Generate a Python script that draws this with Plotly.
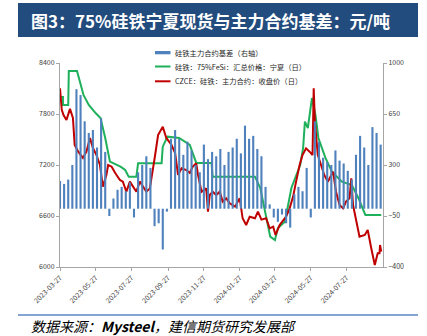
import plotly.graph_objects as go
import pandas as pd

# ---- data ----
basis_start = "2023-03-27"
basis_values = [190, 170, 200, 300, 820, 780, 600, 520, 540, 420,
                620, 390, -50, 70, 130, 150, 120, 180, -60, 250,
                300, 360, 280, -120, -100, -280, -20, 480, 540, 480,
                370, 460, 400, 300, 250, 440, 340, 390, 360, 410,
                300, 390, 420, 480, 380, 570, 480, 500, 410, 360,
                150, 30, -60, -90, -40, -100, -130, 100, 150, 120,
                280, -60, 600, 460, 350, 320, 300, 400, 330, 310,
                260, 200, 370, 500, 420, 300, 560, 520, 440]
basis_dates = pd.date_range(basis_start, periods=len(basis_values), freq="7D")

spot_dates = ["2023-03-27", "2023-04-01", "2023-04-01", "2023-04-10", "2023-04-11", "2023-04-25",
              "2023-05-06", "2023-05-15", "2023-05-27", "2023-06-04", "2023-06-12", "2023-06-20",
              "2023-07-08", "2023-07-16", "2023-07-22", "2023-08-04", "2023-08-07", "2023-09-16",
              "2023-09-18", "2023-09-26", "2023-10-16", "2023-11-03", "2023-11-14", "2023-12-10",
              "2023-12-12", "2024-02-22", "2024-03-02", "2024-03-10", "2024-03-19", "2024-03-27",
              "2024-04-01", "2024-04-13", "2024-04-24", "2024-05-09", "2024-05-14", "2024-05-17",
              "2024-05-22", "2024-05-29", "2024-06-04", "2024-06-09", "2024-06-21", "2024-07-02",
              "2024-07-19", "2024-08-05", "2024-08-16", "2024-08-28", "2024-09-24"]
spot_values = [8000, 8000, 7906, 7906, 8306, 8306,
               8024, 7906, 7808, 7753, 7518, 7239,
               7180, 7141, 7063, 7063, 7222, 7222,
               7416, 7533, 7518, 7435, 7224, 7224,
               7063, 7063, 6930, 6651, 6357, 6318,
               6459, 6534, 6930, 7200, 7400, 7710,
               7635, 7988, 7788, 7518, 7283, 7122,
               7004, 6965, 6812, 6612, 6612]

fut_dates = ["2023-03-27", "2023-03-30", "2023-04-02", "2023-04-07", "2023-04-13", "2023-04-18",
             "2023-04-21", "2023-04-27", "2023-05-05", "2023-05-11", "2023-05-17", "2023-05-22",
             "2023-05-28", "2023-06-03", "2023-06-08", "2023-06-14", "2023-06-17", "2023-06-23",
             "2023-06-29", "2023-07-07", "2023-07-12", "2023-07-18", "2023-07-24", "2023-07-29",
             "2023-08-04", "2023-08-10", "2023-08-15", "2023-08-21", "2023-08-27", "2023-09-01",
             "2023-09-05", "2023-09-10", "2023-09-16", "2023-09-18", "2023-09-24", "2023-10-03",
             "2023-10-09", "2023-10-14", "2023-10-20", "2023-10-28", "2023-11-03", "2023-11-08",
             "2023-11-14", "2023-11-17", "2023-11-23", "2023-12-01", "2023-12-04", "2023-12-07",
             "2023-12-12", "2023-12-18", "2023-12-24", "2023-12-29", "2024-01-04", "2024-01-10",
             "2024-01-19", "2024-01-27", "2024-02-01", "2024-02-07", "2024-02-13", "2024-02-22",
             "2024-02-27", "2024-03-04", "2024-03-12", "2024-03-18", "2024-03-24", "2024-03-28",
             "2024-04-04", "2024-04-15", "2024-04-21", "2024-04-27", "2024-05-02", "2024-05-08",
             "2024-05-13", "2024-05-19", "2024-05-25", "2024-05-30", "2024-06-01", "2024-06-03",
             "2024-06-08", "2024-06-14", "2024-06-19", "2024-06-25", "2024-07-04", "2024-07-09",
             "2024-07-15", "2024-07-21", "2024-07-26", "2024-08-01", "2024-08-04", "2024-08-07",
             "2024-08-12", "2024-08-18", "2024-08-27", "2024-09-01", "2024-09-07", "2024-09-13",
             "2024-09-18", "2024-09-21", "2024-09-22", "2024-09-24"]
fut_values = [8102, 7850, 7788, 7729, 7860, 7753,
              7435, 7357, 7283, 7357, 7518, 7400,
              7318, 7200, 6946, 7083, 7200, 7180,
              7106, 7024, 7004, 6886, 7004, 6946,
              6886, 7004, 6946, 6886, 6925, 7122,
              7318, 7553, 7632, 7650, 7518, 7435,
              7341, 7083, 7161, 7141, 7106, 7180,
              7220, 7083, 6886, 6925, 6651, 6847,
              6886, 6847, 6886, 6769, 6808, 6749,
              6710, 6808, 6573, 6494, 6592, 6573,
              6651, 6557, 6573, 6455, 6475, 6377,
              6494, 6592, 6690, 6831, 7004, 7200,
              7318, 7396, 7357, 7318, 8102, 7710,
              7318, 7200, 7083, 7004, 7122, 6886,
              6729, 6690, 6769, 6808, 7043, 6729,
              6573, 6357, 6377, 6436, 6220, 6024,
              6161, 6161, 6259, 6180]

tick_dates = ["2023-03-27", "2023-05-27", "2023-07-27", "2023-09-27", "2023-11-27",
              "2024-01-27", "2024-03-27", "2024-05-27", "2024-07-27"]

names = ["硅铁主力合约基差（右轴）", "硅铁：75%FeSi：汇总价格：宁夏（日）", "CZCE：硅铁：主力合约：收盘价（日）"]
colors = ["#4F81BD", "#1EB05A", "#C00000"]

FONT = "Noto Sans CJK SC"

fig = go.Figure()
fig.add_trace(go.Bar(x=basis_dates, y=basis_values, name=names[0], yaxis="y2",
                     marker=dict(color=colors[0], line=dict(width=0)),
                     width=3.6 * 86400000))
fig.add_trace(go.Scatter(x=spot_dates, y=spot_values, name=names[1], mode="lines",
                         line=dict(color=colors[1], width=2)))
fig.add_trace(go.Scatter(x=fut_dates, y=fut_values, name=names[2], mode="lines",
                         line=dict(color=colors[2], width=2)))

# plot area: x 60..383, y 63..267 (px)
def px(xp):
    return (xp - 60) / 323.0

def py(yp):
    return (267 - yp) / 204.0

axis_common = dict(showgrid=False, zeroline=False, showline=True, linecolor="#A6A6A6",
                   linewidth=1, ticks="outside", ticklen=3, tickcolor="#A6A6A6",
                   tickfont=dict(family=FONT, size=7, color="#404040"))

shapes = [
    dict(type="rect", xref="paper", yref="paper", x0=px(18), x1=px(418), y0=py(37), y1=py(3),
         fillcolor="#234C7E", line=dict(width=0), layer="below"),
    dict(type="line", xref="paper", yref="paper", x0=px(18), x1=px(418), y0=py(315), y1=py(315),
         line=dict(color="#5B86C5", width=1.5)),
]
annotations = [
    dict(text="<b>图3：75%硅铁宁夏现货与主力合约基差：元/吨</b>", xref="paper", yref="paper",
         x=px(29), y=py(20), xanchor="left", yanchor="middle", showarrow=False,
         font=dict(family=FONT, size=17, color="white")),
    dict(text="<i>数据来源：<b>Mysteel</b>，建信期货研究发展部</i>", xref="paper", yref="paper",
         x=px(29), y=py(326), xanchor="left", yanchor="middle", showarrow=False,
         font=dict(family=FONT, size=14, color="#000000")),
]

# legend (drawn manually for compact row spacing)
leg_rows = [52.7, 66.5, 81.3]
shapes.append(dict(type="rect", xref="paper", yref="paper", x0=px(155), x1=px(170.5),
                   y0=py(54.3), y1=py(51.0), fillcolor=colors[0], line=dict(width=0)))
for i in (1, 2):
    shapes.append(dict(type="line", xref="paper", yref="paper", x0=px(155), x1=px(170.5),
                       y0=py(leg_rows[i]), y1=py(leg_rows[i]),
                       line=dict(color=colors[i], width=2)))
for i in range(3):
    annotations.append(dict(text=names[i], xref="paper", yref="paper", x=px(173), y=py(leg_rows[i]),
                            xanchor="left", yanchor="middle", showarrow=False,
                            font=dict(family=FONT, size=7.3, color="#262626")))

fig.update_layout(
    width=427, height=336,
    margin=dict(l=60, r=44, t=63, b=69),
    paper_bgcolor="white", plot_bgcolor="white",
    font=dict(family=FONT),
    showlegend=False,
    barmode="overlay",
    xaxis=dict(**axis_common, type="date", range=["2023-03-27", "2024-09-27"],
               tickvals=tick_dates, ticktext=tick_dates, tickangle=-45),
    yaxis=dict(**axis_common, range=[6000, 8400], tickvals=[6000, 6600, 7200, 7800, 8400]),
    yaxis2=dict(**axis_common, range=[-400, 1000], tickvals=[-400, -50, 300, 650, 1000],
                overlaying="y", side="right"),
    shapes=shapes,
    annotations=annotations,
)

fig.write_html("out.html")
